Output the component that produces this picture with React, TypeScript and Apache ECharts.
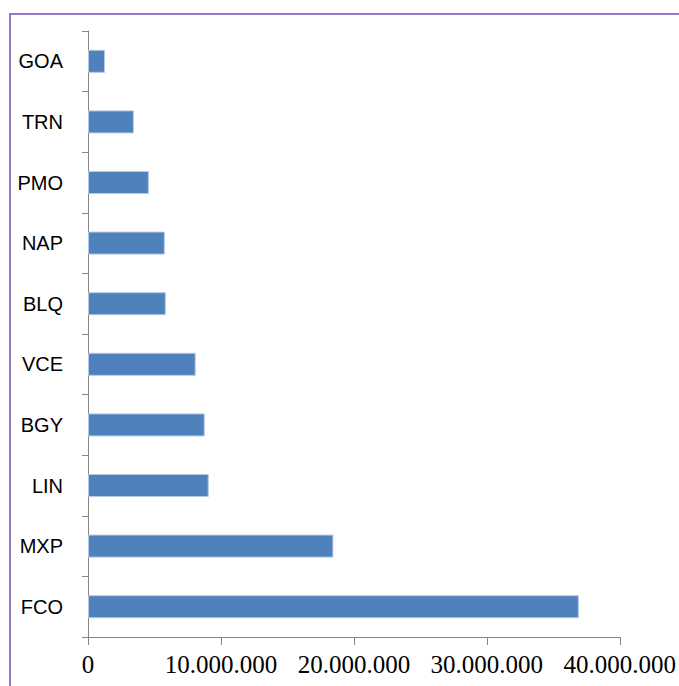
import React, { useEffect, useRef } from "react";
import * as echarts from "echarts";

const categories = ["FCO", "MXP", "LIN", "BGY", "VCE", "BLQ", "NAP", "PMO", "TRN", "GOA"];
const values = [36920000, 18460000, 9080000, 8780000, 8100000, 5850000, 5780000, 4580000, 3450000, 1280000];
const xTicks = [0, 10000000, 20000000, 30000000, 40000000];

function fmt(v: number): string {
  return String(Math.round(v)).replace(/\B(?=(\d{3})+(?!\d))/g, ".");
}

export default function App() {
  const ref = useRef<HTMLDivElement>(null);
  useEffect(() => {
    if (!ref.current) return;
    const chart = echarts.init(ref.current, null, { renderer: "svg" });
    chart.setOption({
      animation: false,
      backgroundColor: "#ffffff",
      graphic: [
        {
          type: "rect",
          shape: { x: 10, y: 14, width: 900, height: 900 },
          style: { fill: "none", stroke: "#9778c6", lineWidth: 2 },
          silent: true,
        },
      ],
      grid: { left: 88, right: 58, top: 31, bottom: 49, containLabel: false },
      xAxis: {
        type: "value",
        min: xTicks[0],
        max: xTicks[xTicks.length - 1],
        interval: xTicks[1] - xTicks[0],
        splitLine: { show: false },
        axisLine: { show: true, lineStyle: { color: "#868686", width: 1 } },
        axisTick: { show: true, length: 8, lineStyle: { color: "#868686" } },
        axisLabel: {
          formatter: (v: number) => fmt(v),
          fontFamily: "Liberation Serif",
          fontSize: 25,
          color: "#000000",
          margin: 15,
        },
      },
      yAxis: {
        type: "category",
        data: categories,
        axisLine: { show: true, lineStyle: { color: "#868686", width: 1 } },
        axisTick: { show: true, length: 6, lineStyle: { color: "#868686" } },
        axisLabel: {
          fontFamily: "Liberation Sans",
          fontSize: 20,
          color: "#000000",
          margin: 25,
        },
      },
      series: [
        {
          type: "bar",
          data: values,
          barCategoryGap: "62%",
          itemStyle: { color: "#4f81bd", borderColor: "#b3c9e4", borderWidth: 1 },
        },
      ],
    });
    return () => chart.dispose();
  }, []);
  return (
    <div
      ref={ref}
      style={{ position: "fixed", left: 0, top: 0, width: 679, height: 686 }}
    />
  );
}
